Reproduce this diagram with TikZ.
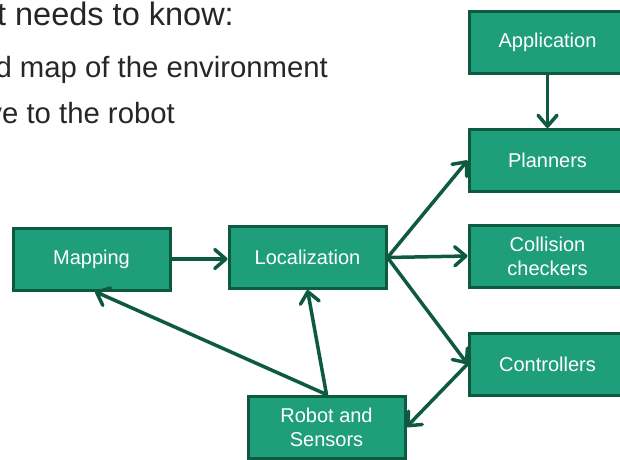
\documentclass[tikz,border=0pt]{standalone}
\usepackage{fontspec}
\setmainfont{Liberation Sans}
\usetikzlibrary{arrows.meta}

\definecolor{boxfill}{HTML}{1F9E7C}
\definecolor{boxedge}{HTML}{0D5A40}
\definecolor{slidetext}{HTML}{262626}

\tikzset{
  block/.style={draw=boxedge, fill=boxfill, line width=3pt,
    minimum width=157pt, minimum height=62pt, inner sep=2pt,
    text=white, align=center, font=\fontsize{20}{24}\selectfont},
  link/.style={draw=boxedge, line width=3.5pt, line cap=round,
    -{Straight Barb[length=11pt, width=19pt, line width=3.5pt, round]}},
  bullet/.style={text=slidetext, inner sep=0pt, anchor=base east}
}

\begin{document}
\begin{tikzpicture}[x=1pt, y=-1pt]
  \useasboundingbox (0,0) rectangle (620,459);
  \clip (0,0) rectangle (620,459);

  % slide text running in from the left edge
  \node[bullet, font=\fontsize{32.5}{39}\selectfont] (l1) at (234,25) {t needs to know:};
  \node[bullet, font=\fontsize{29.3}{35}\selectfont] (l2) at (328,77) {d map of the environment};
  \node[bullet, font=\fontsize{29.3}{35}\selectfont] (l3) at (175,123) {ve to the robot};

  % blocks
  \node[block] (app)  at (547.5,42.5) {Application};
  \node[block] (plan) at (547.5,160.5) {Planners};
  \node[block] (coll) at (547.5,256) {Collision\\checkers};
  \node[block] (ctrl) at (547.5,364) {Controllers};
  \node[block] (map)  at (91.5,259) {Mapping};
  \node[block] (loc)  at (307.5,257.5) {Localization};
  \node[block] (rob)  at (326.5,427) {Robot and\\Sensors};

  % connectors
  \draw[link] (app.south) -- (plan.north);
  \draw[link] (map.east) -- (map.east -| loc.west);
  \draw[link] (loc.east) -- (plan.west);
  \draw[link] (loc.east) -- (coll.west);
  \draw[link] (loc.east) -- (ctrl.west);
  \draw[link] (ctrl.west) -- (rob.east);
  \draw[link] (rob.north) -- (loc.south);
  \draw[link] (rob.north) -- ([xshift=3.5pt]map.south);
\end{tikzpicture}
\end{document}
